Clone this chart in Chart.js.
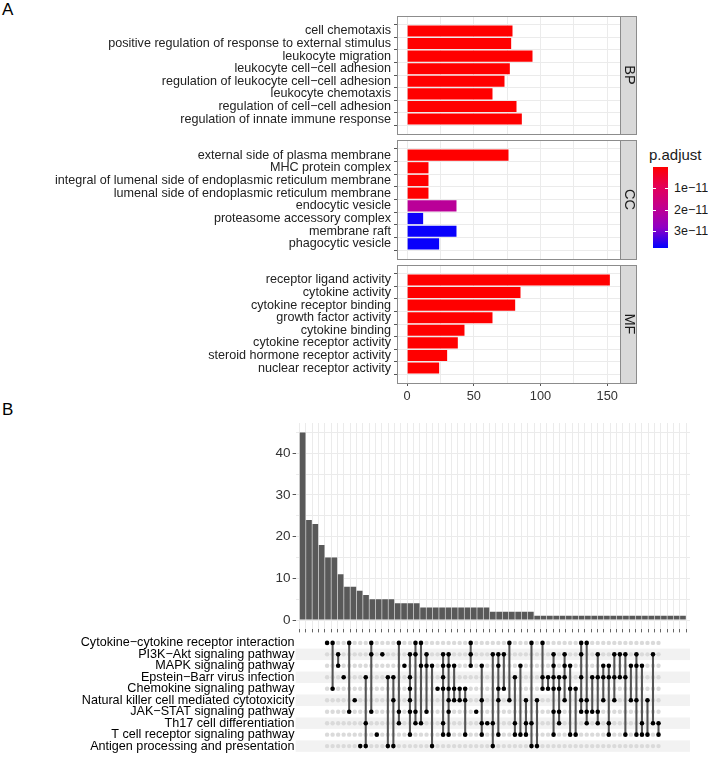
<!DOCTYPE html>
<html>
<head>
<meta charset="utf-8">
<script src="https://cdn.jsdelivr.net/npm/chart.js@4.4.1/dist/chart.umd.min.js"></script>
<style>
  html, body { margin: 0; padding: 0; background: #fff; }
  body { width: 708px; height: 757px; position: relative; overflow: hidden; font-family: "Liberation Sans", Arial, sans-serif; color: #1a1a1a; }
  canvas { position: absolute; left: 0; }
  .tag { position: absolute; left: 2px; font-size: 17px; line-height: 20px; color: #000; }
  .legend-title { position: absolute; left: 649px; top: 146px; font-size: 15px; line-height: 18px; }
  .legend-bar { position: absolute; left: 653px; top: 167px; width: 15px; height: 81px; }
  .legend-lab { position: absolute; left: 674px; font-size: 12.5px; line-height: 14px; }
  .legend-tick { position: absolute; width: 3px; height: 1px; background: #fff; }
</style>
</head>
<body>

<div class="tag" style="top:0px">A</div>
<div class="tag" style="top:400px">B</div>

<canvas id="bpChart" width="640" height="121" style="top:15px"></canvas>
<canvas id="ccChart" width="640" height="122" style="top:139px"></canvas>
<canvas id="mfChart" width="640" height="142" style="top:264px"></canvas>

<div class="legend-title">p.adjust</div>
<div class="legend-bar" id="legendBar"></div>
<div id="legendLabels"></div>

<canvas id="upsetBars" width="708" height="218" style="top:415px"></canvas>
<canvas id="upsetMatrix" width="708" height="125" style="top:632px"></canvas>

<script>
/* ---------------------------------------------------------------------------------*/
/* Data - panel A (GO enrichment) */
/* ---------------------------------------------------------------------------------*/

const bpTerms = [
   'cell chemotaxis',
   'positive regulation of response to external stimulus',
   'leukocyte migration',
   'leukocyte cell−cell adhesion',
   'regulation of leukocyte cell−cell adhesion',
   'leukocyte chemotaxis',
   'regulation of cell−cell adhesion',
   'regulation of innate immune response'
];
const bpCounts = [79, 78, 94, 77, 73, 64, 82, 86];
const bpPadj = [2e-20, 3e-20, 1e-22, 5e-19, 8e-19, 2e-18, 4e-18, 6e-18];

const ccTerms = [
   'external side of plasma membrane',
   'MHC protein complex',
   'integral of lumenal side of endoplasmic reticulum membrane',
   'lumenal side of endoplasmic reticulum membrane',
   'endocytic vesicle',
   'proteasome accessory complex',
   'membrane raft',
   'phagocytic vesicle'
];
const ccCounts = [76, 16, 16, 16, 37, 12, 37, 24];
const ccPadj = [1e-20, 2e-14, 3e-14, 3e-14, 2.05e-11, 3.7e-11, 3.75e-11, 3.75e-11];

const mfTerms = [
   'receptor ligand activity',
   'cytokine activity',
   'cytokine receptor binding',
   'growth factor activity',
   'cytokine binding',
   'cytokine receptor activity',
   'steroid hormone receptor activity',
   'nuclear receptor activity'
];
const mfCounts = [152, 85, 81, 64, 43, 38, 30, 24];
const mfPadj = [1e-60, 1e-40, 1e-38, 1e-20, 1e-18, 1e-17, 1e-15, 1e-14];

const countTicks = [0, 25, 50, 75, 100, 125, 150];
const padjTicks = [1e-11, 2e-11, 3e-11];
const padjLimits = [0, 3.8e-11];

/* ---------------------------------------------------------------------------------*/
/* Data - panel B (KEGG pathway intersections) */
/* ---------------------------------------------------------------------------------*/

const setNames = [
   'Cytokine−cytokine receptor interaction',
   'PI3K−Akt signaling pathway',
   'MAPK signaling pathway',
   'Epstein−Barr virus infection',
   'Chemokine signaling pathway',
   'Natural killer cell mediated cytotoxicity',
   'JAK−STAT signaling pathway',
   'Th17 cell differentiation',
   'T cell receptor signaling pathway',
   'Antigen processing and presentation'
];

const intersectionSizes = [
   45, 24, 23, 18, 15, 15, 11, 8, 8, 7,
   6, 5, 5, 5, 5, 4, 4, 4, 4, 3,
   3, 3, 3, 3, 3, 3, 3, 3, 3, 3,
   2, 2, 2, 2, 2, 2, 2, 1, 1, 1,
   1, 1, 1, 1, 1, 1, 1, 1, 1, 1,
   1, 1, 1, 1, 1, 1, 1, 1, 1, 1,
   1
];

// row indices (into setNames) that take part in each intersection
const intersectionSets = [
   [0], [0, 4], [1, 2], [3], [0, 6], [5], [9], [3, 7, 9], [0, 1, 6], [8],
   [1], [3, 9], [3, 5, 9], [0, 6, 7], [2], [1, 3, 4, 5, 6, 8], [0, 1, 6, 7], [0, 2, 7], [1, 2, 6], [2, 9],
   [4], [1, 2, 3, 4, 7, 8], [1, 2, 4, 5, 6, 8], [2, 4, 5], [4, 5], [4, 5, 8], [0, 1, 2], [6], [2, 5, 7, 8], [7],
   [1, 7, 9], [1, 2, 4, 5, 8], [1, 4], [0, 5], [3, 7, 8], [2, 8], [5, 7, 8], [0, 7, 9], [5, 9], [0, 3, 4],
   [3, 4], [1, 2, 3, 4, 6, 8], [3, 4, 6, 7], [1, 2, 3, 5], [2, 4, 8], [4, 8], [0, 1, 3, 5, 6], [0, 5, 6, 7], [3, 6], [1, 3, 6, 7],
   [2, 3, 5], [2, 3, 7, 8], [1, 3, 5], [1, 3], [1, 3, 8], [2, 5], [1, 2, 5, 8], [2, 7, 8], [5, 8], [1, 7],
   [7, 8]
];

const sizeTicks = [0, 5, 10, 15, 20, 25, 30, 35, 40, 45];

/* ---------------------------------------------------------------------------------*/
/* Shared settings */
/* ---------------------------------------------------------------------------------*/

Chart.defaults.font.family = '"Liberation Sans", Arial, sans-serif';
Chart.defaults.color = '#1a1a1a';
Chart.defaults.animation = false;

const gridGrey = '#ebebeb';
const frameGrey = '#8c8c8c';

// red (low p) -> blue (high p), roughly the Lab ramp ggplot uses
const gradStops = [
   [0, [255, 0, 0]],
   [0.25, [227, 0, 90]],
   [0.5, [194, 0, 143]],
   [0.75, [144, 0, 197]],
   [1, [0, 0, 255]]
];

const padjColor = (p) => {
   let t = (p - padjLimits[0]) / (padjLimits[1] - padjLimits[0]);
   t = Math.min(1, Math.max(0, t));
   for (let i = 1; i < gradStops.length; i++) {
      const [t1, c1] = gradStops[i];
      const [t0, c0] = gradStops[i - 1];
      if (t <= t1) {
         const f = (t - t0) / (t1 - t0);
         const c = c0.map((v, k) => Math.round(v + (c1[k] - v) * f));
         return `rgb(${c[0]},${c[1]},${c[2]})`;
      }
   }
   return 'rgb(0,0,255)';
};

// Chart.js reserves room for half of the end labels; our end ticks sit inside the range
const noEdgePadding = (s) => {
   s.paddingTop = 0;
   s.paddingBottom = 0;
   s.paddingLeft = 0;
   s.paddingRight = 0;
};

// Frame round the panel + grey facet strip on the right
const facetFrame = {
   id: 'facetFrame',
   afterDraw(chart, args, opts) {
      const {ctx, chartArea: a} = chart;
      ctx.save();
      ctx.strokeStyle = frameGrey;
      ctx.lineWidth = 1;
      ctx.strokeRect(a.left + 0.5, a.top + 0.5, a.right - a.left, a.bottom - a.top);
      ctx.fillStyle = '#d9d9d9';
      ctx.fillRect(a.right + 0.5, a.top + 0.5, 16, a.bottom - a.top);
      ctx.strokeRect(a.right + 0.5, a.top + 0.5, 16, a.bottom - a.top);
      ctx.translate(a.right + 8.5, (a.top + a.bottom) / 2);
      ctx.rotate(Math.PI / 2);
      ctx.fillStyle = '#1a1a1a';
      ctx.font = '14.5px "Liberation Sans", Arial, sans-serif';
      ctx.textAlign = 'center';
      ctx.textBaseline = 'middle';
      ctx.fillText(opts.label, 0, 0);
      ctx.restore();
   }
};

/* ---------------------------------------------------------------------------------*/
/* Panel A charts */
/* ---------------------------------------------------------------------------------*/

const facetChart = (id, terms, counts, padj, strip, showX) => new Chart(document.getElementById(id), {
   type: 'bar',
   data: {
      datasets: [{
         data: counts.map((v, i) => ({x: v, y: i})),
         backgroundColor: padj.map(padjColor),
         barPercentage: 0.88,
         categoryPercentage: 1
      }]
   },
   options: {
      indexAxis: 'y',
      responsive: false,
      layout: {padding: {top: 1, bottom: 2, right: 20, left: 0}},
      plugins: {
         legend: {display: false},
         tooltip: {enabled: false},
         facetFrame: {label: strip}
      },
      scales: {
         y: {
            type: 'linear',
            reverse: true,
            min: -0.6,
            max: terms.length - 0.4,
            afterBuildTicks: s => { s.ticks = terms.map((t, i) => ({value: i})); },
            afterFit: s => { s.width = 397; noEdgePadding(s); },
            ticks: {
               callback: v => terms[v],
               color: '#222',
               font: {size: 12.6},
               padding: 3,
               autoSkip: false
            },
            grid: {color: gridGrey, tickColor: '#555', tickLength: 3},
            border: {display: false}
         },
         x: {
            type: 'linear',
            min: -7.6,
            max: 159.6,
            afterBuildTicks: s => { s.ticks = countTicks.map(v => ({value: v})); },
            afterFit: s => { s.height = showX ? 21 : 0; noEdgePadding(s); },
            ticks: {
               display: showX,
               callback: v => (v % 50 === 0 ? v : ''),
               color: '#333',
               font: {size: 12.8},
               padding: 3,
               autoSkip: false,
               maxRotation: 0
            },
            grid: {
               color: gridGrey,
               drawTicks: showX,
               tickLength: 3,
               tickColor: c => (c.tick && c.tick.value % 50 === 0 ? '#555' : 'rgba(0,0,0,0)')
            },
            border: {display: false}
         }
      }
   },
   plugins: [facetFrame]
});

facetChart('bpChart', bpTerms, bpCounts, bpPadj, 'BP', false);
facetChart('ccChart', ccTerms, ccCounts, ccPadj, 'CC', false);
facetChart('mfChart', mfTerms, mfCounts, mfPadj, 'MF', true);

/* ---------------------------------------------------------------------------------*/
/* p.adjust colour bar */
/* ---------------------------------------------------------------------------------*/

const legendBar = document.getElementById('legendBar');
legendBar.style.background = 'linear-gradient(to bottom, ' +
   gradStops.map(([t, c]) => `rgb(${c.join(',')}) ${t * 100}%`).join(', ') + ')';

const legendLabels = document.getElementById('legendLabels');
padjTicks.forEach(p => {
   const t = (p - padjLimits[0]) / (padjLimits[1] - padjLimits[0]);
   const y = 167 + t * 81;
   const txt = p.toExponential(0).replace('e-', 'e−');
   legendLabels.insertAdjacentHTML('beforeend',
      `<div class="legend-lab" style="top:${y - 7}px">${txt}</div>` +
      `<div class="legend-tick" style="left:653px;top:${y}px"></div>` +
      `<div class="legend-tick" style="left:665px;top:${y}px"></div>`);
});

/* ---------------------------------------------------------------------------------*/
/* Panel B - intersection size bars */
/* ---------------------------------------------------------------------------------*/

const nCols = intersectionSizes.length;
const plotLeft = 295.6;

new Chart(document.getElementById('upsetBars'), {
   type: 'bar',
   data: {
      datasets: [{
         data: intersectionSizes.map((v, i) => ({x: i, y: v})),
         backgroundColor: '#595959',
         barPercentage: 0.9,
         categoryPercentage: 1
      }]
   },
   options: {
      responsive: false,
      layout: {padding: {top: 8, bottom: 0, right: 18, left: 0}},
      plugins: {legend: {display: false}, tooltip: {enabled: false}},
      scales: {
         x: {
            type: 'linear',
            min: -0.6,
            max: nCols - 0.4,
            afterBuildTicks: s => { s.ticks = intersectionSizes.map((v, i) => ({value: i})); },
            afterFit: s => { s.height = 3.6; noEdgePadding(s); },
            ticks: {display: false},
            grid: {color: gridGrey, tickLength: 3, tickColor: '#666'},
            border: {display: false}
         },
         y: {
            type: 'linear',
            min: -2.25,
            max: 47.25,
            afterBuildTicks: s => { s.ticks = sizeTicks.map(v => ({value: v})); },
            afterFit: s => { s.width = plotLeft; noEdgePadding(s); },
            ticks: {
               callback: v => (v % 10 === 0 ? v : ''),
               color: '#333',
               font: {size: 13.5},
               padding: 2,
               autoSkip: false
            },
            grid: {
               color: gridGrey,
               tickLength: 3,
               tickColor: c => (c.tick && c.tick.value % 10 === 0 ? '#555' : 'rgba(0,0,0,0)')
            },
            border: {display: false}
         }
      }
   }
});

/* ---------------------------------------------------------------------------------*/
/* Panel B - combination matrix */
/* ---------------------------------------------------------------------------------*/

const dotOff = [];
const dotOn = [];
const links = [];
intersectionSets.forEach((rows, i) => {
   setNames.forEach((name, r) => (rows.includes(r) ? dotOn : dotOff).push({x: i, y: r}));
   links.push({x: i, y: [Math.min(...rows), Math.max(...rows)]});
});

// alternating grey stripes behind the rows
const rowStripes = {
   id: 'rowStripes',
   beforeDatasetsDraw(chart) {
      const {ctx, chartArea: a, scales} = chart;
      const y = scales.y;
      const half = Math.abs(y.getPixelForValue(1) - y.getPixelForValue(0)) / 2;
      ctx.save();
      ctx.fillStyle = '#f2f2f2';
      setNames.forEach((name, r) => {
         if (r % 2 === 1) {
            const py = y.getPixelForValue(r);
            ctx.fillRect(a.left, py - half, a.right - a.left, half * 2);
         }
      });
      ctx.restore();
   }
};

new Chart(document.getElementById('upsetMatrix'), {
   type: 'bar',
   data: {
      datasets: [
         {
            type: 'scatter',
            data: dotOff,
            pointRadius: 2.2,
            pointBackgroundColor: '#dadada',
            pointBorderWidth: 0,
            order: 3
         },
         {
            type: 'bar',
            data: links,
            backgroundColor: '#555',
            barThickness: 1.4,
            order: 2
         },
         {
            type: 'scatter',
            data: dotOn,
            pointRadius: 2.3,
            pointBackgroundColor: '#000',
            pointBorderWidth: 0,
            order: 1
         }
      ]
   },
   options: {
      responsive: false,
      layout: {padding: {top: 1, bottom: 1, right: 18, left: 0}},
      plugins: {legend: {display: false}, tooltip: {enabled: false}},
      scales: {
         x: {
            type: 'linear',
            min: -0.6,
            max: nCols - 0.4,
            display: false
         },
         y: {
            type: 'linear',
            reverse: true,
            min: -0.6,
            max: setNames.length - 0.4,
            afterBuildTicks: s => { s.ticks = setNames.map((n, i) => ({value: i})); },
            afterFit: s => { s.width = plotLeft; noEdgePadding(s); },
            ticks: {
               callback: v => setNames[v],
               color: '#000',
               font: {size: 12.6},
               padding: 1,
               autoSkip: false
            },
            grid: {display: false, drawTicks: false},
            border: {display: false}
         }
      }
   },
   plugins: [rowStripes]
});
</script>
</body>
</html>
